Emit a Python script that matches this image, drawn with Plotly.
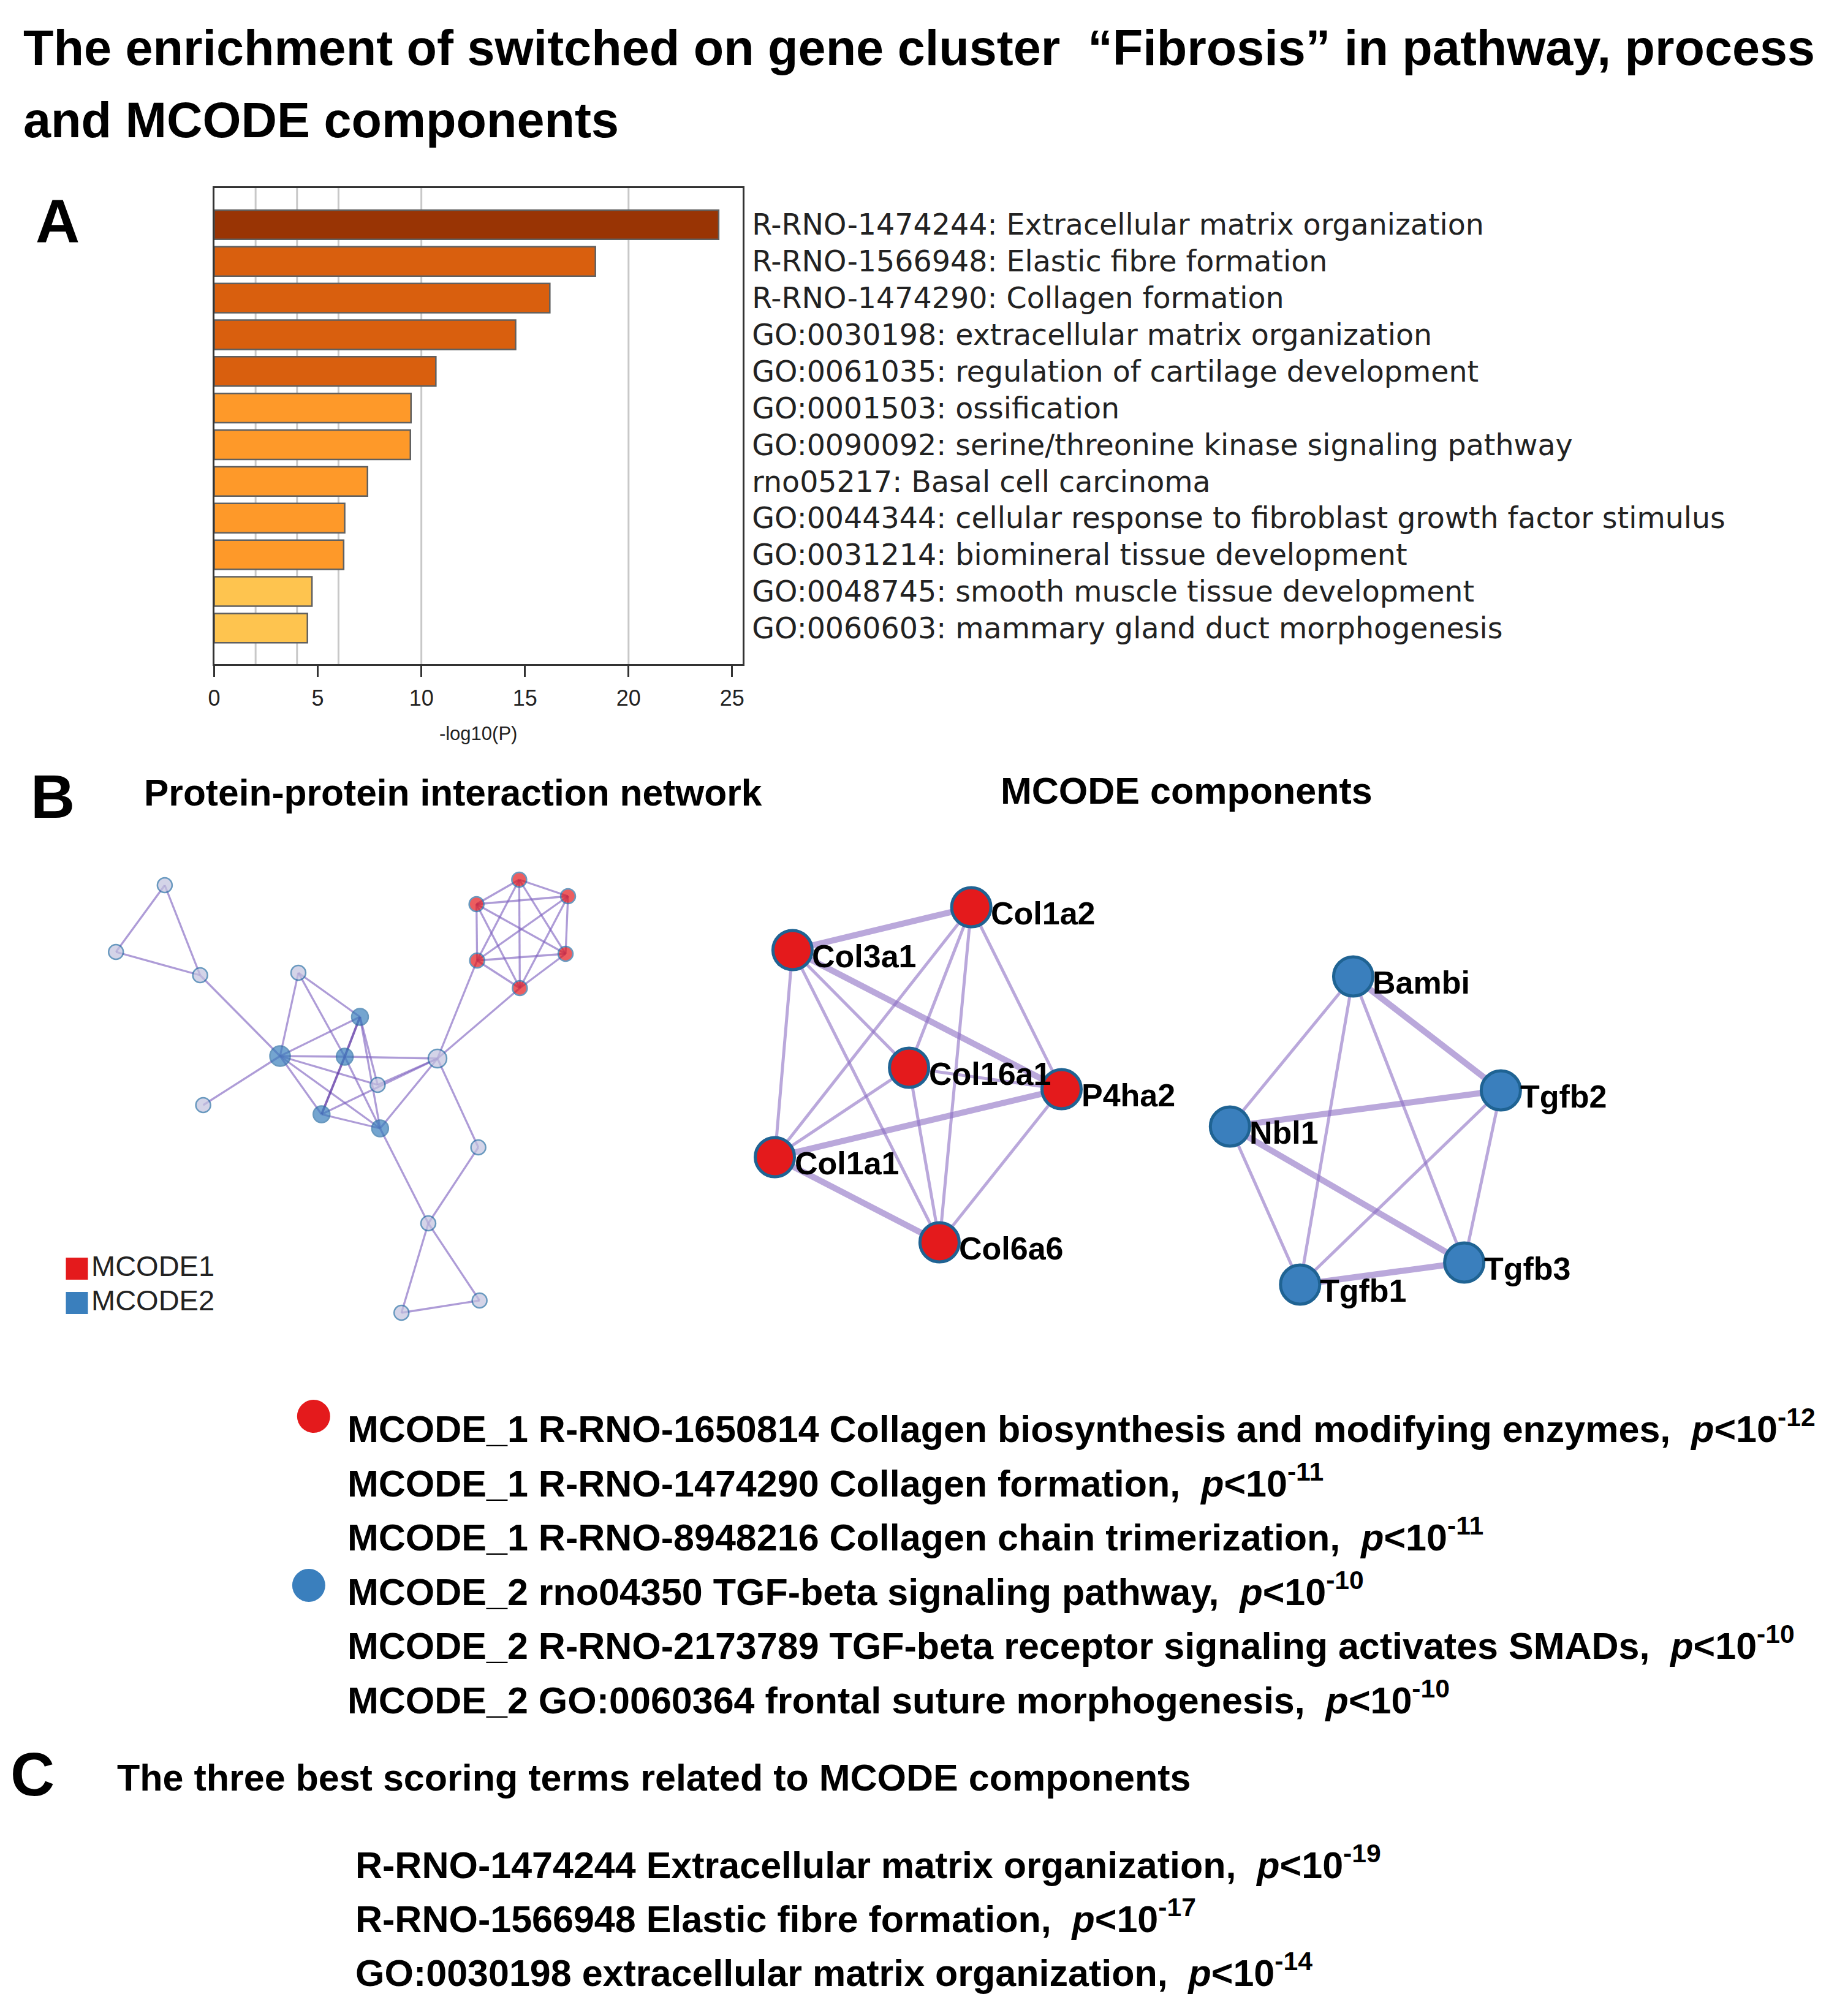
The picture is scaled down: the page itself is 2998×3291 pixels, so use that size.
import plotly.graph_objects as go

W, H = 2998, 3291

# ---------------- Panel A data ----------------
terms = [
    "R-RNO-1474244: Extracellular matrix organization",
    "R-RNO-1566948: Elastic fibre formation",
    "R-RNO-1474290: Collagen formation",
    "GO:0030198: extracellular matrix organization",
    "GO:0061035: regulation of cartilage development",
    "GO:0001503: ossification",
    "GO:0090092: serine/threonine kinase signaling pathway",
    "rno05217: Basal cell carcinoma",
    "GO:0044344: cellular response to fibroblast growth factor stimulus",
    "GO:0031214: biomineral tissue development",
    "GO:0048745: smooth muscle tissue development",
    "GO:0060603: mammary gland duct morphogenesis",
]
neglog10p = [24.35, 18.4, 16.2, 14.55, 10.7, 9.5, 9.47, 7.4, 6.3, 6.25, 4.72, 4.5]
bar_colors = ["#993404"] + ["#d95f0e"] * 4 + ["#fe9929"] * 5 + ["#fec44f"] * 2
x_tick_vals = [0, 5, 10, 15, 20, 25]
grid_vals = [2, 4, 6, 10, 20]

# ---------------- Panel B: PPI network (layout coordinates) ----------------
ppi_x = [260, 180, 318, 479, 580, 449, 555, 707, 609, 323, 517, 613, 774, 692, 776, 648,
         841, 921, 771, 772, 917, 842]
ppi_y = [1445, 1554, 1592, 1588, 1660, 1724, 1725, 1728, 1771, 1804, 1819, 1842, 1873, 1997, 2123, 2143,
         1436, 1463, 1476, 1568, 1557, 1613]
ppi_cluster = [0, 0, 0, 0, 2, 2, 2, 0, 0, 0, 2, 2, 0, 0, 0, 0, 1, 1, 1, 1, 1, 1]
ppi_edges = [(0, 1), (0, 2), (1, 2), (2, 5), (3, 5), (3, 4), (3, 6), (4, 5), (4, 8), (4, 11),
             (5, 6), (6, 7), (5, 8), (5, 10), (5, 11), (5, 9), (7, 8), (7, 10), (7, 11),
             (7, 19), (7, 21), (7, 12), (10, 11), (6, 11), (11, 13), (12, 13), (13, 14),
             (13, 15), (14, 15)]
red_nodes = [16, 17, 18, 19, 20, 21]
ppi_edges += [(a, b) for i, a in enumerate(red_nodes) for b in red_nodes[i + 1:]]
ppi_strong_edges = [(4, 6), (6, 10)]

# ---------------- Panel B: MCODE components ----------------
m1_genes = ["Col1a2", "Col3a1", "Col16a1", "P4ha2", "Col1a1", "Col6a6"]
m1_x = [1582, 1289, 1480, 1730, 1260, 1530]
m1_y = [1481, 1551, 1743, 1778, 1889, 2028]
m1_thick = [(1, 0), (1, 3), (4, 3), (4, 5)]
m1_thin = [(0, 2), (0, 4), (0, 5), (0, 3), (1, 2), (1, 4), (1, 5), (2, 3), (2, 4), (2, 5), (3, 5)]

m2_genes = ["Bambi", "Tgfb2", "Nbl1", "Tgfb1", "Tgfb3"]
m2_x = [2208, 2450, 2006, 2121, 2390]
m2_y = [1594, 1780, 1839, 2097, 2061]
m2_thick = [(0, 1), (2, 1), (2, 4), (3, 4)]
m2_thin = [(0, 2), (0, 3), (0, 4), (2, 3), (1, 3), (1, 4)]

mcode_terms = [
    ("MCODE_1", "R-RNO-1650814", "Collagen biosynthesis and modifying enzymes", "-12"),
    ("MCODE_1", "R-RNO-1474290", "Collagen formation", "-11"),
    ("MCODE_1", "R-RNO-8948216", "Collagen chain trimerization", "-11"),
    ("MCODE_2", "rno04350", "TGF-beta signaling pathway", "-10"),
    ("MCODE_2", "R-RNO-2173789", "TGF-beta receptor signaling activates SMADs", "-10"),
    ("MCODE_2", "GO:0060364", "frontal suture morphogenesis", "-10"),
]
best_terms = [
    ("R-RNO-1474244", "Extracellular matrix organization", "-19"),
    ("R-RNO-1566948", "Elastic fibre formation", "-17"),
    ("GO:0030198", "extracellular matrix organization", "-14"),
]

# ---------------- styles ----------------
BOLDF = "'Liberation Sans', Arial, sans-serif"
ARIAL = "'Liberation Sans', Arial, sans-serif"
DEJAVU = "'DejaVu Sans', sans-serif"
RED = "#e41a1c"
BLUE = "#3a7fbd"
LIGHT = "#c3c3df"
EDGE = "rgba(140,110,195,0.6)"

fig = go.Figure()

# ---- Panel A bars ----
fig.add_trace(go.Bar(
    x=neglog10p, y=list(range(len(terms))), orientation="h", width=0.8,
    marker=dict(color=bar_colors, line=dict(color="#606060", width=2.5)),
    xaxis="x", yaxis="y", showlegend=False, hoverinfo="skip"))
for gv in grid_vals:
    fig.add_shape(type="line", xref="x", yref="y domain", x0=gv, x1=gv, y0=0, y1=1,
                  line=dict(color="#c8c8c8", width=3), layer="below")


def edge_xy(xs, ys, edges):
    ex, ey = [], []
    for a, b in edges:
        ex += [xs[a], xs[b], None]
        ey += [ys[a], ys[b], None]
    return ex, ey


def line_trace(xs, ys, edges, color, width):
    ex, ey = edge_xy(xs, ys, edges)
    return go.Scatter(x=ex, y=ey, mode="lines", line=dict(color=color, width=width),
                      xaxis="x2", yaxis="y2", showlegend=False, hoverinfo="skip")


# ---- PPI network ----
fig.add_trace(line_trace(ppi_x, ppi_y, ppi_edges, "rgba(125,95,190,0.62)", 3.3))
fig.add_trace(line_trace(ppi_x, ppi_y, ppi_strong_edges, "rgba(95,55,165,0.78)", 3.8))
fill_map = {0: LIGHT, 1: RED, 2: BLUE}
fig.add_trace(go.Scatter(
    x=ppi_x, y=ppi_y, mode="markers", xaxis="x2", yaxis="y2", showlegend=False, hoverinfo="skip",
    marker=dict(color=[fill_map[c] for c in ppi_cluster],
                size=[33 if i == 5 else 30 if i == 7 else 27 if c == 2 else 24
                      for i, c in enumerate(ppi_cluster)],
                line=dict(color="#2a6fa5", width=2.5))))

# legend squares for PPI network
fig.add_trace(go.Scatter(
    x=[116, 116], y=[2071, 2127], mode="markers+text", text=["MCODE1", "MCODE2"],
    textposition="middle right", xaxis="x2", yaxis="y2", showlegend=False, hoverinfo="skip",
    textfont=dict(family=ARIAL, size=47, color="#222"),
    marker=dict(symbol="square", size=36, color=[RED, BLUE])))

# ---- MCODE components ----
fig.add_trace(line_trace(m1_x, m1_y, m1_thin, EDGE, 5))
fig.add_trace(line_trace(m1_x, m1_y, m1_thick, EDGE, 10))
fig.add_trace(line_trace(m2_x, m2_y, m2_thin, EDGE, 5))
fig.add_trace(line_trace(m2_x, m2_y, m2_thick, EDGE, 10))
for xs, ys, col in [(m1_x, m1_y, RED), (m2_x, m2_y, BLUE)]:
    fig.add_trace(go.Scatter(
        x=xs, y=ys, mode="markers", xaxis="x2", yaxis="y2", showlegend=False, hoverinfo="skip",
        marker=dict(color=col, size=64, line=dict(color="#1f6393", width=5))))
for genes, xs, ys in [(m1_genes, m1_x, m1_y), (m2_genes, m2_x, m2_y)]:
    for g, x, y in zip(genes, xs, ys):
        fig.add_annotation(x=x, y=y, xref="x2", yref="y2", text="<b>%s</b>" % g, showarrow=False,
                           xanchor="left", yanchor="middle", xshift=30, yshift=-10,
                           font=dict(family=BOLDF, size=52, color="black"))

# dots for the MCODE term list
fig.add_trace(go.Scatter(
    x=[504, 496], y=[2312, 2588], mode="markers", xaxis="x2", yaxis="y2", showlegend=False,
    hoverinfo="skip", marker=dict(color=[RED, BLUE], size=54)))


def note(x, y, text, size, family=BOLDF, xanchor="left", color="black"):
    fig.add_annotation(x=x, y=y, xref="x2", yref="y2", text=text, showarrow=False,
                       xanchor=xanchor, yanchor="middle", font=dict(family=family, size=size, color=color))


SEP = ",\u00a0\u00a0"
# title
note(26, 78, "<b>The enrichment of switched on gene cluster \u00a0\u201cFibrosis\u201d in pathway, process</b>", 81)
note(26, 196, "<b>and MCODE components</b>", 81)
# panel letters
note(84, 361, "<b>A</b>", 100, ARIAL, "center")
note(76, 1300, "<b>B</b>", 100, ARIAL, "center")
note(43, 2896, "<b>C</b>", 100, ARIAL, "center")
# sub-headings
note(224, 1294, "<b>Protein-protein interaction network</b>", 60.5)
note(1628, 1291, "<b>MCODE components</b>", 61)
note(180, 2902, "<b>The three best scoring terms related to MCODE components</b>", 61)

for i, (mc, tid, name, ex) in enumerate(mcode_terms):
    note(557, 2328 + 88.6 * i,
         "<b>%s %s %s%s<i>p</i>&lt;10<sup>%s</sup></b>" % (mc, tid, name, SEP, ex), 61)
for i, (tid, name, ex) in enumerate(best_terms):
    note(570, 3040 + 88 * i, "<b>%s %s%s<i>p</i>&lt;10<sup>%s</sup></b>" % (tid, name, SEP, ex), 61)

fig.update_layout(
    width=W, height=H, margin=dict(l=0, r=0, t=0, b=0), autosize=False,
    paper_bgcolor="white", plot_bgcolor="rgba(0,0,0,0)", showlegend=False,
    xaxis=dict(domain=[341 / W, 1207 / W], range=[0, 25.5], anchor="y",
               tickvals=x_tick_vals, ticks="outside", ticklen=18, tickwidth=2.5, tickcolor="#333",
               showgrid=False, zeroline=False, ticklabelstandoff=4,
               showline=True, linecolor="#333", linewidth=3, mirror=True,
               tickfont=dict(family=ARIAL, size=36, color="#222"),
               title=dict(text="-log10(P)", font=dict(family=ARIAL, size=31, color="#222"), standoff=28)),
    yaxis=dict(domain=[1 - 1084 / H, 1 - 307 / H], range=[11.98, -1], anchor="x", side="right",
               tickvals=list(range(len(terms))), ticktext=terms, ticks="", showgrid=False,
               zeroline=False, showline=True, linecolor="#333", linewidth=3, mirror=True,
               tickfont=dict(family=DEJAVU, size=47.5, color="#222"), ticklabelstandoff=3),
    xaxis2=dict(domain=[0, 1], range=[0, W], anchor="y2", visible=False),
    yaxis2=dict(domain=[0, 1], range=[H, 0], anchor="x2", visible=False),
)

fig.write_html("out.html", config={"displayModeBar": False},
               post_script="document.body.style.margin='0px';")
